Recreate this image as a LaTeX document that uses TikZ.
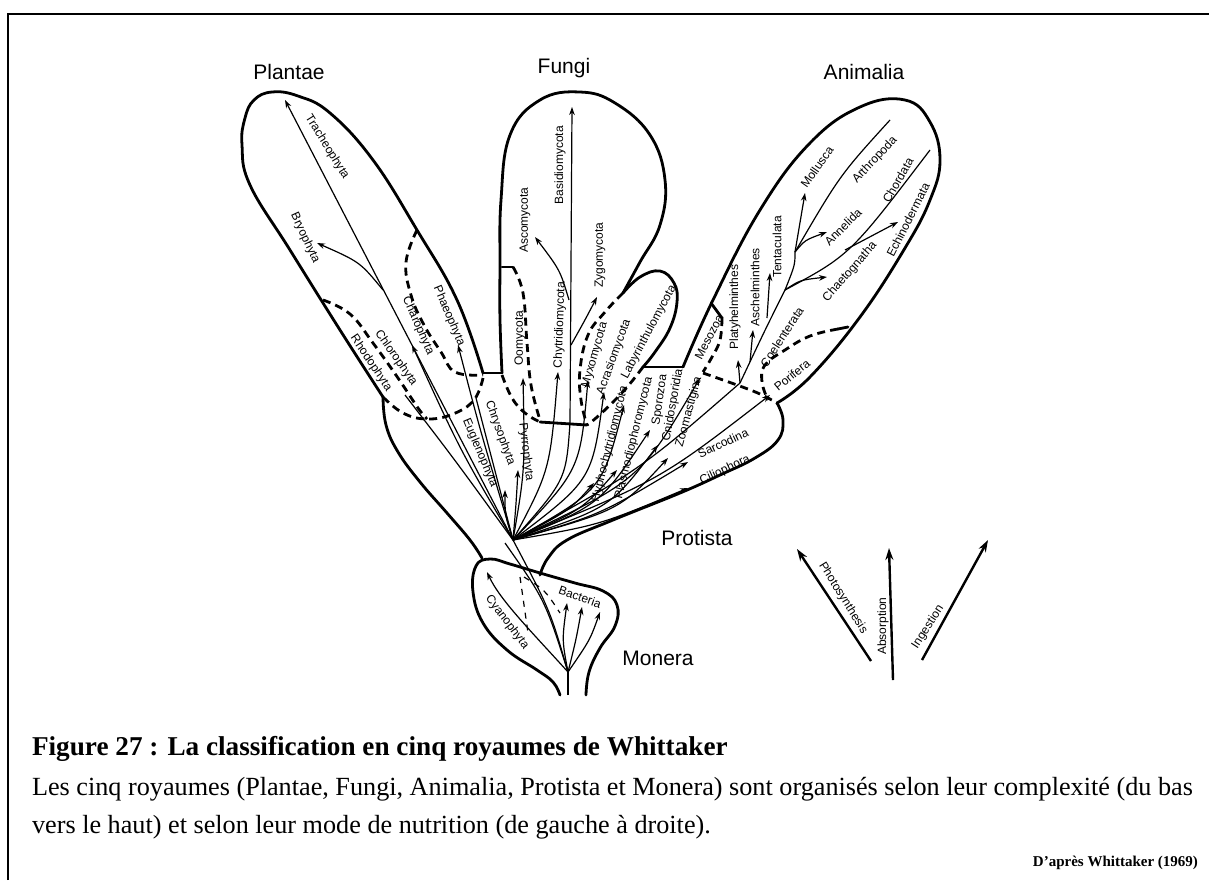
\documentclass[tikz,border=0pt]{standalone}
\usepackage{fontspec}
\setmainfont{Liberation Serif}
\setsansfont{Liberation Sans}
\usetikzlibrary{arrows.meta}

\begin{document}
\begin{tikzpicture}[x=0.5pt, y=-0.5pt, >={Stealth[length=4pt,width=2.8pt]},
  kingdom/.style={font=\sffamily\fontsize{10.5}{12}\selectfont},
  taxon/.style={font=\sffamily\fontsize{6}{7}\selectfont, inner sep=0pt},
  rim/.style={line width=1.4pt, line join=round, line cap=round},
  border/.style={line width=1.4pt, dash pattern=on 4pt off 2.6pt},
  twig/.style={line width=0.6pt},
  ray/.style={twig, ->},
  mode/.style={line width=1.2pt, -{Stealth[length=6pt,width=4pt]}}]
  \useasboundingbox (0,0) rectangle (1209,880);
  \draw[line width=1pt] (8,880) -- (8,14) -- (1209,14);

  % outlines of the kingdoms
  \draw[rim] plot[smooth, tension=0.7] coordinates {(483,373) (457,300) (417,230) (373,160)
    (330,113) (298,96) (272,92) (254,100) (245,118) (242,145) (250,185) (290,250) (340,330) (383,397)};
  \draw[rim] plot[smooth, tension=0.7] coordinates {(383,397) (386,425) (398,452) (420,482)
    (447,513) (470,540) (482,558)};
  \draw[rim] plot[smooth, tension=0.7] coordinates {(560,695) (553,682) (537,670) (507,650)
    (483,623) (473,592) (476,566) (490,559) (510,564) (540,573) (575,583) (603,591) (617,605)
    (615,626) (600,648) (589,672) (586,695)};
  \draw[rim] plot[smooth, tension=0.7] coordinates {(777,403) (783,420) (778,440) (755,458)
    (720,475) (680,493) (613,520) (567,540) (548,558) (540,575)};
  \draw[rim] (483,373) -- (502,373);
  \draw[rim] plot[smooth, tension=0.7] coordinates {(502,373) (500,320) (500,267) (501,200)
    (510,135) (540,100) (580,92) (615,103) (650,135) (665,180) (660,225) (640,262) (623,293)};
  \draw[rim] plot[smooth, tension=0.7] coordinates {(623,293) (640,277) (660,271) (674,283)
    (677,302) (670,328) (655,352) (643,367)};
  \draw[rim] (643,367) -- (683,367);
  \draw[rim] plot[smooth, tension=0.7] coordinates {(683,367) (713,300) (760,210) (810,143)
    (860,107) (905,100) (930,122) (940,160) (930,200) (905,248) (860,317) (810,377) (777,403)};
  \draw[rim] (502,267) -- (513,267);
  \draw[rim] (711,303) -- (722,318);
  \draw[rim] (848,327) -- (838,329);
  \draw[rim] (540,422) -- (587,425);

  % dashed limits
  \draw[border] plot[smooth, tension=0.7] coordinates {(417,230) (406,262) (411,295) (424,325) (441,352) (455,372) (483,375)};
  \draw[border] plot[smooth, tension=0.7] coordinates {(483,378) (474,400) (453,414) (427,419) (403,413) (383,397)};
  \draw[border] plot[smooth, tension=0.7] coordinates {(323,300) (350,314) (373,343) (398,378) (418,408) (427,419)};
  \draw[border] plot[smooth, tension=0.7] coordinates {(513,267) (523,293) (527,343) (531,385) (540,420)};
  \draw[border] plot[smooth, tension=0.7] coordinates {(502,375) (512,398) (525,413) (540,422)};
  \draw[border] plot[smooth, tension=0.7] coordinates {(623,293) (605,312) (588,335) (580,370) (581,400) (587,425)};
  \draw[border] plot[smooth, tension=0.7] coordinates {(643,367) (628,386) (612,403) (596,418) (587,425)};
  \draw[border] plot[smooth, tension=0.7] coordinates {(722,318) (720,340) (712,357) (703,372)};
  \draw[border] plot[smooth, tension=0.7] coordinates {(703,373) (737,385) (760,394) (777,403)};
  \draw[border] plot[smooth, tension=0.7] coordinates {(838,329) (810,336) (785,350) (765,365) (762,382) (768,400)};

  % branch points
  \coordinate (J) at (513,540);
  \coordinate (M) at (568,672);
  \coordinate (A) at (740,383);
  \coordinate (B) at (383,290);
  \coordinate (F) at (570,423);
  \coordinate (C1) at (785,290);
  \coordinate (C2) at (795,252);

  % Monera
  \draw[twig] (568,695) -- (M);
  \draw[twig] (M) .. controls (550,610) .. (J);
  \draw[twig] (M) .. controls (545,600) .. (505,543);
  \draw[ray] (M) .. controls (530,630) and (500,600) .. (487,572);
  \draw[ray] (M) .. controls (562,640) .. (567,603);
  \draw[ray] (M) .. controls (576,640) .. (582,607);
  \draw[ray] (M) .. controls (590,640) .. (600,612);
  \draw[twig, dashed] (520,577) -- (528,633);
  \draw[twig, dashed] (524,577) .. controls (545,590) .. (560,613);

  % Plantae
  \draw[ray] (J) -- (285,100);
  \draw[ray] (B) .. controls (360,262) .. (317,243);
  \draw[twig] (J) .. controls (455,460) .. (405,395);
  \draw[ray] (J) .. controls (460,450) .. (412,345);
  \draw[ray] (J) .. controls (480,430) .. (458,345);
  \draw[twig] (J) -- (476,398);
  \draw[ray] (J) .. controls (505,515) .. (505,490);
  \draw[ray] (J) .. controls (516,505) .. (518,470);

  % Fungi
  \draw[ray] (J) .. controls (525,470) .. (523,378);
  \draw[ray] (J) .. controls (550,470) .. (558,372);
  \draw[twig] (J) .. controls (566,480) .. (F);
  \draw[ray] (F) -- (572,107);
  \draw[ray] (569,300) .. controls (560,270) .. (535,237);
  \draw[ray] (571,345) .. controls (585,320) .. (597,297);
  \draw[ray] (J) .. controls (580,470) .. (588,380);
  \draw[ray] (J) .. controls (592,480) .. (604,392);
  \draw[ray] (J) .. controls (602,490) .. (624,405);

  % Protista
  \draw[ray] (J) .. controls (570,510) .. (594,483);
  \draw[ray] (J) .. controls (582,510) .. (617,470);
  \draw[ray] (J) .. controls (600,505) .. (650,430);
  \draw[ray] (J) .. controls (610,508) .. (658,445);
  \draw[ray] (J) .. controls (620,510) .. (668,458);
  \draw[ray] (J) .. controls (600,515) .. (688,462);
  \draw[ray] (J) .. controls (600,525) .. (688,488);
  \draw[ray] (J) .. controls (640,480) .. (700,378);
  \draw[ray] (J) .. controls (660,480) .. (770,395);

  % Animalia
  \draw[twig] (J) .. controls (640,470) .. (A);
  \draw[ray] (A) -- (738,360);
  \draw[ray] (A) .. controls (765,330) .. (C1) .. controls (795,265) .. (C2) -- (805,193);
  \draw[ray] (750,362) -- (753,330);
  \draw[ray] (767,318) -- (770,273);
  \draw[twig] (C2) .. controls (840,175) .. (890,120);
  \draw[ray] (C2) .. controls (805,240) .. (827,232);
  \draw[ray] (C1) .. controls (800,280) .. (827,277);
  \draw[twig] (C1) .. controls (850,255) .. (930,150);
  \draw[ray] (845,250) -- (898,222);

  % modes of nutrition
  \coordinate (ph0) at (871,661);
  \coordinate (ph1) at (797,549);
  \coordinate (ab0) at (893,680);
  \coordinate (ab1) at (889,548);
  \coordinate (in0) at (922,660);
  \coordinate (in1) at (988,540);
  \draw[mode] (ph0) -- (ph1);
  \draw[mode] (ab0) -- (ab1);
  \draw[mode] (in0) -- (in1);

  % kingdoms
  \node[kingdom] (plantae) at (289,72) {Plantae};
  \node[kingdom] (fungi) at (564,68) {Fungi};
  \node[kingdom] (animalia) at (864,72) {Animalia};
  \node[kingdom] (protista) at (697,538) {Protista};
  \node[kingdom] (monera) at (658,658) {Monera};

  % phyla
  \node[taxon, rotate=-58] (trach) at (327,147) {Tracheophyta};
  \node[taxon, rotate=-65] (bryo) at (305,238) {Bryophyta};
  \node[taxon, rotate=-67] (phaeo) at (449,316) {Phaeophyta};
  \node[taxon, rotate=-66] (charo) at (418,326) {Charophyta};
  \node[taxon, rotate=-55] (chloro) at (396,358) {Chlorophyta};
  \node[taxon, rotate=-56] (rhodo) at (371,363) {Rhodophyta};
  \node[taxon, rotate=-67] (eugleno) at (480,453) {Euglenophyta};
  \node[taxon, rotate=-70] (chryso) at (500,433) {Chrysophyta};
  \node[taxon, rotate=-83] (pyrro) at (526,452) {Pyrrophyta};
  \node[taxon, rotate=90] (oomy) at (520,338) {Oomycota};
  \node[taxon, rotate=88] (chytri) at (560,325) {Chytridiomycota};
  \node[taxon, rotate=90] (asco) at (525,220) {Ascomycota};
  \node[taxon, rotate=90] (basidio) at (560,165) {Basidiomycota};
  \node[taxon, rotate=90] (zygo) at (600,255) {Zygomycota};
  \node[taxon, rotate=74] (myxo) at (595,355) {Myxomycota};
  \node[taxon, rotate=70] (acrasio) at (614,357) {Acrasiomycota};
  \node[taxon, rotate=62] (labyr) at (649,332) {Labyrinthulomycota};
  \node[taxon, rotate=76] (hypho) at (610,444) {Hyphochytridiomycota};
  \node[taxon, rotate=76] (plasmo) at (634,438) {Plasmodiophoromycota};
  \node[taxon, rotate=82] (sporo) at (660,400) {Sporozoa};
  \node[taxon, rotate=80] (cnido) at (673,405) {Cnidosporidia};
  \node[taxon, rotate=75] (zoomast) at (689,412) {Zoomastigina};
  \node[taxon, rotate=25] (sarco) at (723,443) {Sarcodina};
  \node[taxon, rotate=25] (cilio) at (725,470) {Ciliophora};
  \node[taxon, rotate=63] (meso) at (709,337) {Mesozoa};
  \node[taxon, rotate=90] (platy) at (735,307) {Platyhelminthes};
  \node[taxon, rotate=90] (aschel) at (755,287) {Aschelminthes};
  \node[taxon, rotate=90] (tenta) at (777,247) {Tentaculata};
  \node[taxon, rotate=57] (coel) at (782,337) {Coelenterata};
  \node[taxon, rotate=39] (pori) at (792,375) {Porifera};
  \node[taxon, rotate=55] (moll) at (817,167) {Mollusca};
  \node[taxon, rotate=47] (arthro) at (875,160) {Arthropoda};
  \node[taxon, rotate=45] (anne) at (843,227) {Annelida};
  \node[taxon, rotate=60] (chorda) at (898,180) {Chordata};
  \node[taxon, rotate=49] (chaeto) at (850,272) {Chaetognatha};
  \node[taxon, rotate=63] (echino) at (908,220) {Echinodermata};
  \node[taxon, rotate=-53] (cyano) at (507,622) {Cyanophyta};
  \node[taxon, rotate=-19] (bact) at (580,597) {Bacteria};
  \node[taxon, rotate=-58] (photo) at (843,598) {Photosynthesis};
  \node[taxon, rotate=90] (absorp) at (883,626) {Absorption};
  \node[taxon, rotate=57] (inges) at (928,627) {Ingestion};

  % caption
  \node[anchor=base west, font=\bfseries\fontsize{13.6}{16}\selectfont] (title) at (25,755)
    {Figure 27 : La classification en cinq royaumes de Whittaker};
  \node[anchor=base west, font=\fontsize{13.1}{15}\selectfont] (cap1) at (25,795)
    {Les cinq royaumes (Plantae, Fungi, Animalia, Protista et Monera) sont organisés selon leur complexité (du bas};
  \node[anchor=base west, font=\fontsize{13.1}{15}\selectfont] (cap2) at (25,833)
    {vers le haut) et selon leur mode de nutrition (de gauche à droite).};
  \node[anchor=base east, font=\bfseries\fontsize{7.5}{9}\selectfont] (credit) at (1205,866)
    {D’après Whittaker (1969)};
\end{tikzpicture}
\end{document}
